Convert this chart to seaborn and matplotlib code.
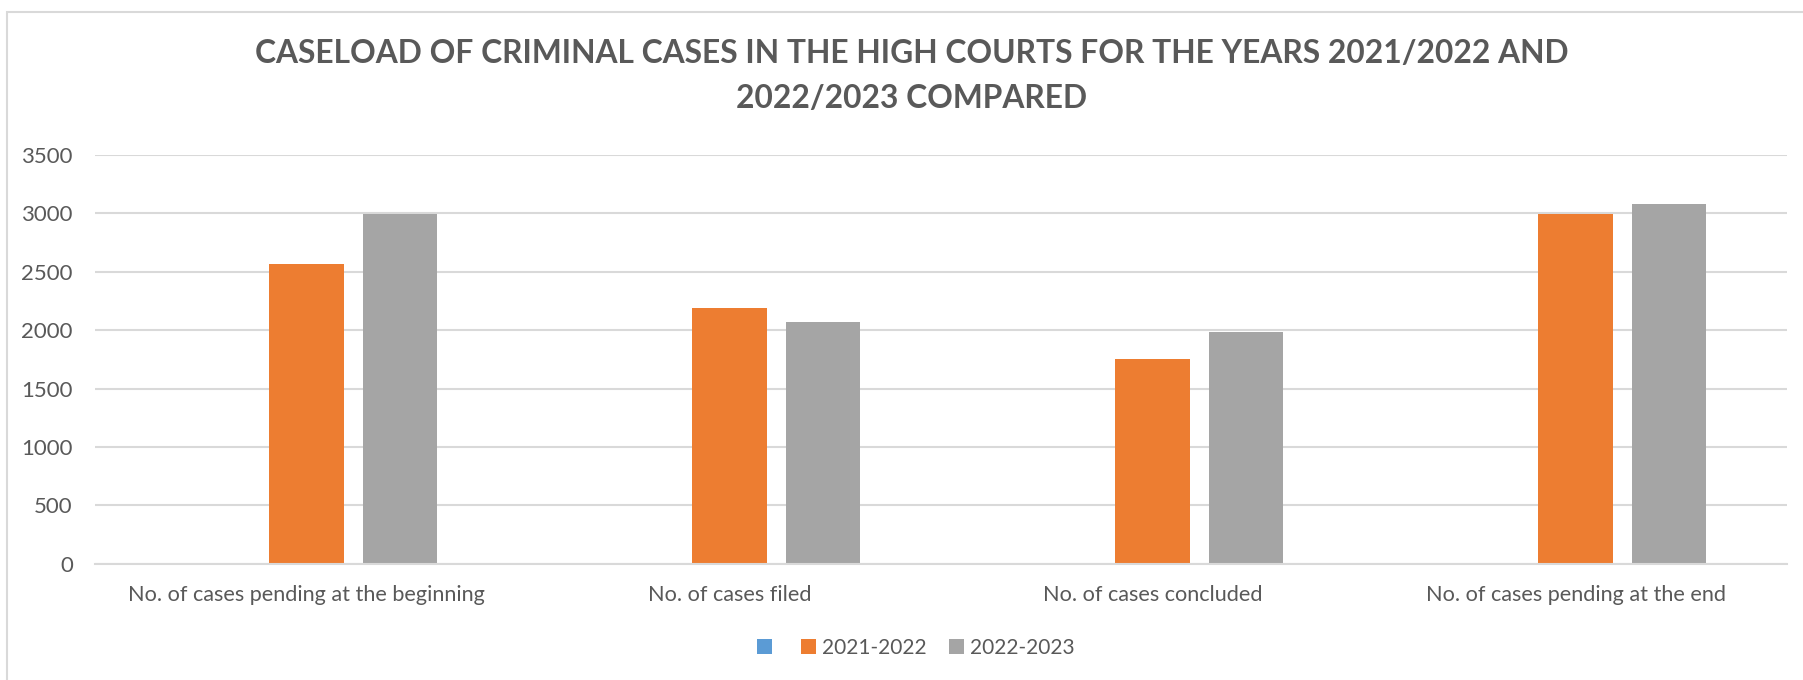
import matplotlib
matplotlib.use("Agg")
import matplotlib.pyplot as plt
from matplotlib.patches import Patch, Rectangle
import seaborn as sns
import pandas as pd

categories = [
    "No. of cases pending at the beginning",
    "No. of cases filed",
    "No. of cases concluded",
    "No. of cases pending at the end",
]
series = [" ", "2021-2022", "2022-2023"]
blank_vals = [0, 0, 0, 0]
vals_2122 = [2564, 2189, 1757, 2994]
vals_2223 = [2995, 2074, 1986, 3077]
colors = ["#5B9BD5", "#ED7D31", "#A5A5A5"]
yticks = [0, 500, 1000, 1500, 2000, 2500, 3000, 3500]

TXT = "#595959"
GRID = "#D9D9D9"

df = pd.DataFrame({
    "category": categories * 3,
    "series": [series[0]] * 4 + [series[1]] * 4 + [series[2]] * 4,
    "value": blank_vals + vals_2122 + vals_2223,
})

sns.set_style("white")
plt.rcParams["font.family"] = ["Lato", "DejaVu Sans"]

fig = plt.figure(figsize=(18.03, 6.8), dpi=100)
W, H = 1803, 680
ax = fig.add_axes([95 / W, 1 - 563.7 / H, (1787 - 95) / W, (563.7 - 155) / H])

sns.barplot(data=df, x="category", y="value", hue="series", hue_order=series,
            order=categories, palette=colors, saturation=1, width=0.666, gap=0.21,
            linewidth=0, legend=False, ax=ax)

ax.set_ylim(0, 3500)
ax.set_xlim(-0.5, 3.5)
ax.set_yticks(yticks)
ax.yaxis.grid(True, color=GRID, linewidth=1.5, zorder=0)
ax.set_axisbelow(True)
for s in ["top", "right", "left"]:
    ax.spines[s].set_visible(False)
ax.spines["bottom"].set_color(GRID)
ax.spines["bottom"].set_linewidth(1.5)
ax.set_xlabel("")
ax.set_ylabel("")
ax.tick_params(axis="y", length=0, pad=16, labelsize=16, labelcolor=TXT)
ax.tick_params(axis="x", length=0, pad=15, labelsize=15.6, labelcolor=TXT)

fig.text(912 / W, 1 - 76 / H,
         "CASELOAD OF CRIMINAL CASES IN THE HIGH COURTS FOR THE YEARS 2021/2022 AND\n2022/2023 COMPARED",
         ha="center", va="center", fontsize=22.9, fontweight="bold", color=TXT,
         linespacing=1.65)

handles = [Patch(facecolor=c, edgecolor="none") for c in colors]
fig.legend(handles, ["", "2021-2022", "2022-2023"], loc="center",
           bbox_to_anchor=(916 / W, 1 - 648 / H), ncol=3, frameon=False,
           fontsize=15, labelcolor=TXT, handlelength=0.7, handleheight=0.7,
           handletextpad=0.3, columnspacing=1.1)

fig.patches.append(Rectangle((7 / W, -0.1), 1.2, (H - 12) / H + 0.1,
                             transform=fig.transFigure, fill=False,
                             edgecolor=GRID, linewidth=1.5))

plt.savefig("out.png", dpi=100)
